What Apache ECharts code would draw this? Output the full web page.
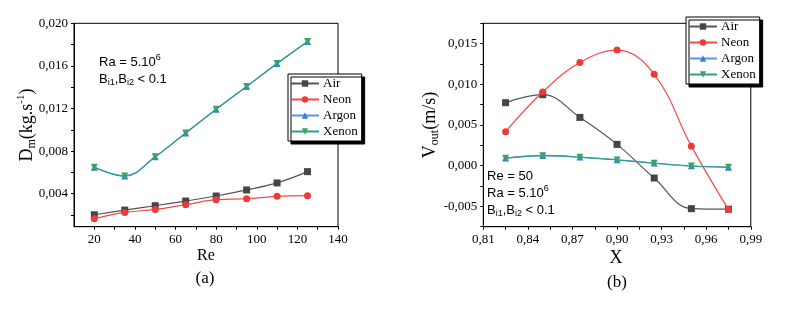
<!DOCTYPE html>
<html><head><meta charset="utf-8">
<script src="https://cdn.jsdelivr.net/npm/echarts@6/dist/echarts.min.js"></script>
<style>html,body{margin:0;padding:0;background:#fff}#c{width:794px;height:314px}</style>
</head><body><div id="c"></div>
<script>
// ---- Chart (a) data ----
const reValues = [20, 35, 50, 65, 80, 95, 110, 125];
const airA   = [0.00202, 0.00246, 0.00287, 0.00331, 0.00378, 0.00435, 0.00501, 0.00607];
const neonA  = [0.00165, 0.00224, 0.00252, 0.00296, 0.00344, 0.00353, 0.00375, 0.00381];
const argonA = [0.00649, 0.00567, 0.00747, 0.00970, 0.01193, 0.01407, 0.01622, 0.01829];
const xenonA = [0.00649, 0.00565, 0.00747, 0.00970, 0.01193, 0.01407, 0.01622, 0.01829];
const xLabelsA = [20, 40, 60, 80, 100, 120, 140];
const xTicksA = [20, 30, 40, 50, 60, 70, 80, 90, 100, 110, 120, 130, 140];
const yLabelsA = [0.004, 0.008, 0.012, 0.016, 0.020];
const yTicksA = [0.002, 0.004, 0.006, 0.008, 0.010, 0.012, 0.014, 0.016, 0.018, 0.020];

// ---- Chart (b) data ----
const xValues = [0.825, 0.85, 0.875, 0.90, 0.925, 0.95, 0.975];
const airB   = [0.00774, 0.00873, 0.00593, 0.00262, -0.00152, -0.00528, -0.00535];
const neonB  = [0.00418, 0.00905, 0.01268, 0.01421, 0.01123, 0.00240, -0.00540];
const argonB = [0.00093, 0.00125, 0.00106, 0.00072, 0.00032, -0.00002, -0.00018];
const xenonB = [0.00091, 0.00123, 0.00104, 0.00070, 0.00030, -0.00004, -0.00020];
const xLabelsB = [0.81, 0.84, 0.87, 0.90, 0.93, 0.96, 0.99];
const xTicksB = [0.81, 0.825, 0.84, 0.855, 0.87, 0.885, 0.90, 0.915, 0.93, 0.945, 0.96, 0.975, 0.99];
const yLabelsB = [-0.005, 0.000, 0.005, 0.010, 0.015];
const yTicksB = [-0.0075, -0.005, -0.0025, 0, 0.0025, 0.005, 0.0075, 0.010, 0.0125, 0.015, 0.0175];

const seriesNames = ['Air', 'Neon', 'Argon', 'Xenon'];

const SERIF = '"Liberation Serif","Times New Roman",serif';
const SANS = '"Liberation Sans",Arial,sans-serif';
const colors = {Air:'#454545', Neon:'#f03a3a', Argon:'#3b7de0', Xenon:'#36a565'};
const lineColors = {Air:'#555555', Neon:'#f24a4a', Argon:'#5b93ea', Xenon:'#2e9e80'};
const symbols = {Air:'rect', Neon:'circle', Argon:'triangle', Xenon:'triangle'};
const symRot = {Air:0, Neon:0, Argon:0, Xenon:180};
const symSize = {Air:7, Neon:7, Argon:7, Xenon:7};

const comma = (d) => (v) => v.toFixed(d).replace('.', ',');

function axisCommon(labels, ticks, fmt, margin) {
  return {
    axisLine: {show: true, onZero: false, lineStyle: {color: '#000', width: 1}},
    axisTick: {show: true, inside: false, length: 3, customValues: ticks, lineStyle: {color: '#000'}},
    axisLabel: {show: true, customValues: labels, formatter: fmt, margin: margin,
      fontFamily: SERIF, fontSize: 13, color: '#000'},
    splitLine: {show: false}
  };
}

function mkSeries(name, xs, ys, xi, yi) {
  return {
    name: name, type: 'line', xAxisIndex: xi, yAxisIndex: yi,
    data: xs.map((x, i) => [x, ys[i]]),
    smooth: 0.4,
    symbol: symbols[name], symbolRotate: symRot[name], symbolSize: symSize[name],
    showSymbol: true,
    itemStyle: {color: colors[name]},
    lineStyle: {color: lineColors[name], width: name === 'Argon' ? 1.3 : 1.2},
    z: 2 + seriesNames.indexOf(name)
  };
}

function mkLegend(left, top) {
  return {
    show: true, orient: 'vertical', left: left, top: top,
    data: seriesNames,
    itemWidth: 28, itemHeight: 8, itemGap: 3,
    padding: [3, 4, 3, 2],
    backgroundColor: '#fff', borderColor: '#000', borderWidth: 1,
    shadowColor: '#000', shadowBlur: 0, shadowOffsetX: 3, shadowOffsetY: 3,
    textStyle: {fontFamily: SERIF, fontSize: 13, color: '#000', padding: [0,0,0,-1]},
    borderRadius: 0,
    z: 20
  };
}

const chart = echarts.init(document.getElementById('c'), null, {renderer: 'canvas'});

const supRich = {
  sub: {fontFamily: SANS, fontSize: 9, verticalAlign: 'bottom', lineHeight: 12, padding: [6,0,0,0]},
  sup: {fontFamily: SANS, fontSize: 9, verticalAlign: 'top', lineHeight: 12, padding: [0,0,5,0]},
  b: {fontFamily: SANS, fontSize: 13, lineHeight: 17}
};
const serifRich = {
  big: {fontFamily: SERIF, fontSize: 18, lineHeight: 22},
  sub: {fontFamily: SERIF, fontSize: 12, verticalAlign: 'bottom', lineHeight: 22, padding: [8,0,0,0]},
  sup: {fontFamily: SERIF, fontSize: 11, verticalAlign: 'top', lineHeight: 22, padding: [0,0,8,0]}
};

function txt(x, y, text, rich, extra) {
  return {
    type: 'text', x: x, y: y, z: 30,
    style: Object.assign({text: text, rich: rich, fill: '#000', textAlign: 'left', textVerticalAlign: 'middle'}, extra || {})
  };
}

const option = {
  animation: false,
  backgroundColor: '#fff',
  grid: [
    {left: 74, top: 23.3, width: 264, height: 203.4, show: true, borderColor: '#000', borderWidth: 1, backgroundColor: 'transparent'},
    {left: 483.3, top: 23.3, width: 267.5, height: 203.4, show: true, borderColor: '#000', borderWidth: 1, backgroundColor: 'transparent'}
  ],
  xAxis: [
    Object.assign({type: 'value', gridIndex: 0, min: 10, max: 140, position: 'bottom'},
      axisCommon(xLabelsA, xTicksA, (v) => String(v), 6)),
    Object.assign({type: 'value', gridIndex: 1, min: 0.81, max: 0.99, position: 'bottom'},
      axisCommon(xLabelsB, xTicksB, comma(2), 6))
  ],
  yAxis: [
    Object.assign({type: 'value', gridIndex: 0, min: 0.0009, max: 0.020, position: 'left'},
      axisCommon(yLabelsA, yTicksA, comma(3), 6)),
    Object.assign({type: 'value', gridIndex: 1, min: -0.0075, max: 0.0175, position: 'left'},
      axisCommon(yLabelsB, yTicksB, comma(3), 6))
  ],
  legend: [
    mkLegend(288, 74),
    mkLegend(686, 17)
  ],
  series: [
    mkSeries('Air', reValues, airA, 0, 0),
    mkSeries('Neon', reValues, neonA, 0, 0),
    mkSeries('Argon', reValues, argonA, 0, 0),
    mkSeries('Xenon', reValues, xenonA, 0, 0),
    mkSeries('Air', xValues, airB, 1, 1),
    mkSeries('Neon', xValues, neonB, 1, 1),
    mkSeries('Argon', xValues, argonB, 1, 1),
    mkSeries('Xenon', xValues, xenonB, 1, 1)
  ],
  graphic: [
    txt(99, 62, '{b|Ra = 5.10}{sup|6}', supRich),
    txt(99, 79, '{b|B}{sub|i1}{b|,B}{sub|i2}{b| < 0.1}', supRich),
    txt(487, 176, '{b|Re = 50}', supRich),
    txt(487, 193, '{b|Ra = 5.10}{sup|6}', supRich),
    txt(487, 210, '{b|B}{sub|i1}{b|,B}{sub|i2}{b| < 0.1}', supRich),
    Object.assign(txt(27, 125, '{big|D}{sub|m}{big|(kg.s}{sup|-1}{big|)}', serifRich, {textAlign: 'center'}), {rotation: Math.PI / 2}),
    Object.assign(txt(430, 125, '{big|V}{sub|out}{big|(m/s)}', serifRich, {textAlign: 'center'}), {rotation: Math.PI / 2}),
    txt(206, 256, 'Re', null, {textAlign: 'center', font: '16px ' + SERIF}),
    txt(616, 258, 'X', null, {textAlign: 'center', font: '18px ' + SERIF}),
    txt(205, 279, '(a)', null, {textAlign: 'center', font: '17px ' + SERIF}),
    txt(617, 283, '(b)', null, {textAlign: 'center', font: '17px ' + SERIF})
  ]
};
chart.setOption(option);
</script>
</body></html>
